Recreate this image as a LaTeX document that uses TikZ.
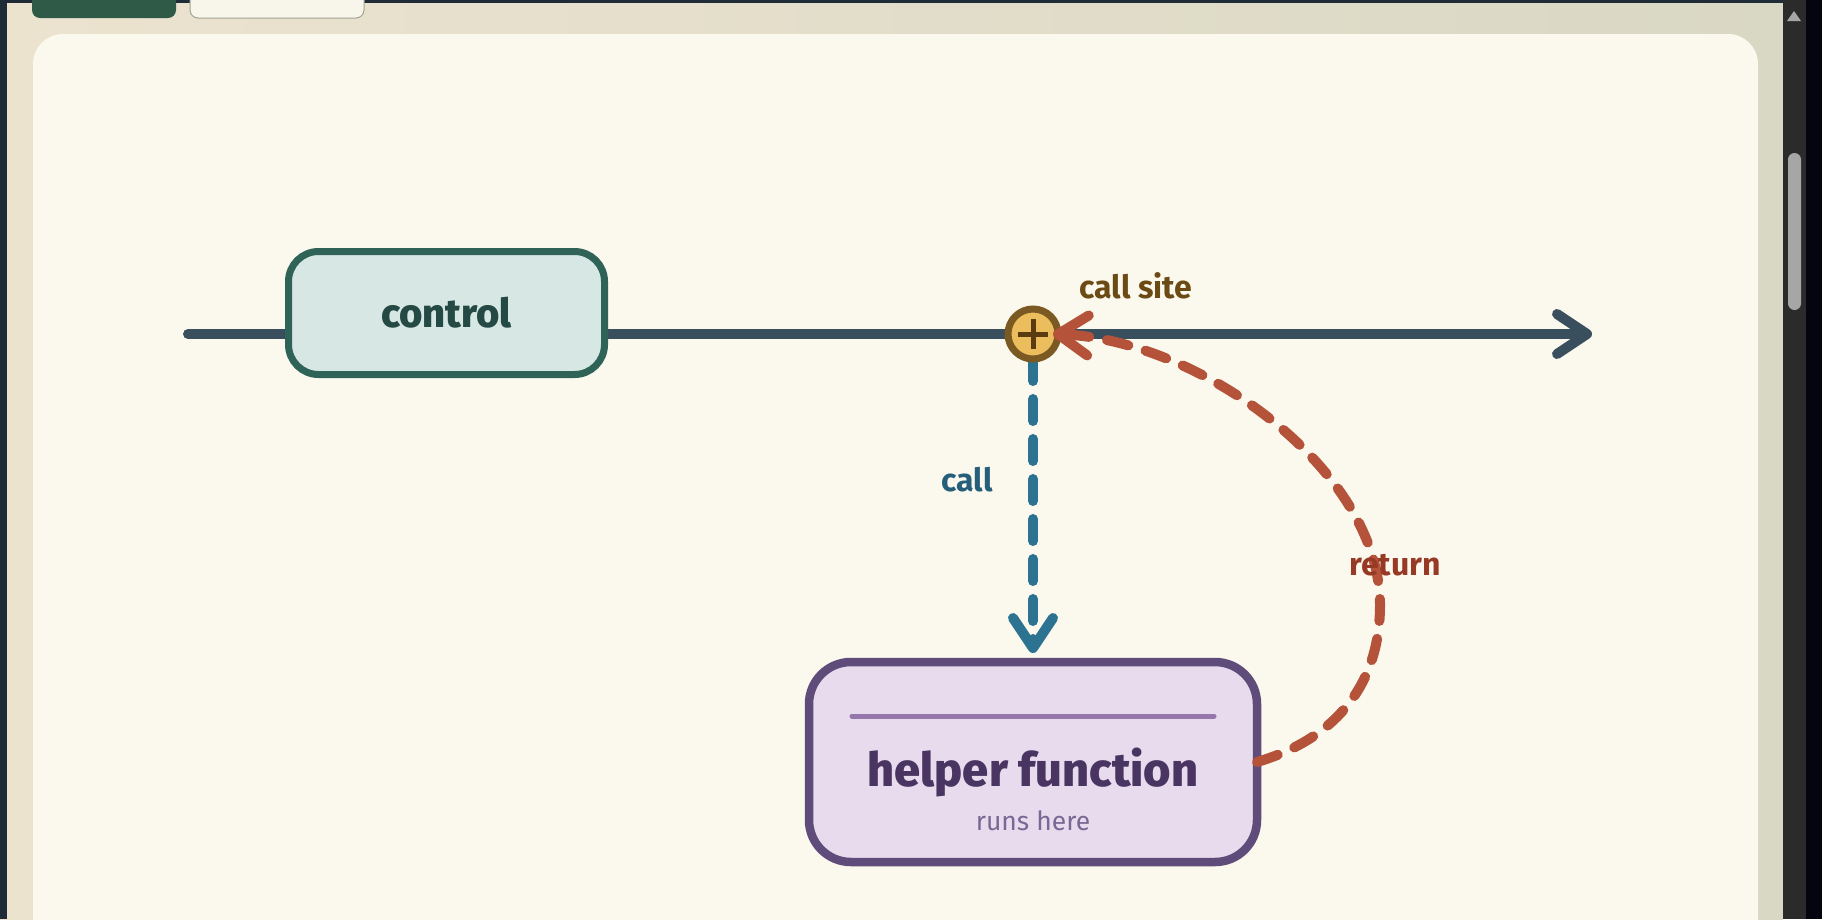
\documentclass[tikz,border=0pt]{standalone}
\usepackage{fontspec}
\setmainfont{Fira Sans}
\newfontfamily\heavyfont{Fira Sans ExtraBold}
\usetikzlibrary{arrows.meta}
\pgfdeclarelayer{bg}
\pgfsetlayers{bg,main}
\definecolor{bgL}{HTML}{ECE3CF}
\definecolor{bgR}{HTML}{D9D8C5}
\definecolor{frame}{HTML}{1F2C38}
\definecolor{track}{HTML}{2B2B2B}
\definecolor{farR}{HTML}{05050F}
\definecolor{thumbc}{HTML}{A6A6A6}
\definecolor{tabgreen}{HTML}{2F5A48}
\definecolor{tabwhite}{HTML}{F8F5EA}
\definecolor{tabborder}{HTML}{A3A392}
\definecolor{panel}{HTML}{FBF8EE}
\definecolor{slate}{HTML}{3A4F5E}
\definecolor{ctrlfill}{HTML}{D7E7E3}
\definecolor{ctrldraw}{HTML}{2F6358}
\definecolor{ctrltext}{HTML}{254A45}
\definecolor{sitefill}{HTML}{EBBD5D}
\definecolor{sitedraw}{HTML}{7A5A22}
\definecolor{plusc}{HTML}{5A3C10}
\definecolor{sitetext}{HTML}{6B4A14}
\definecolor{callc}{HTML}{2C7391}
\definecolor{calltext}{HTML}{255F7A}
\definecolor{retc}{HTML}{B5533A}
\definecolor{rettext}{HTML}{963A26}
\definecolor{helpfill}{HTML}{E8DBEE}
\definecolor{helpdraw}{HTML}{604C7A}
\definecolor{helpline}{HTML}{9577AC}
\definecolor{helptitle}{HTML}{4A3562}
\definecolor{helpsub}{HTML}{7A6894}
\begin{document}
\begin{tikzpicture}[x=1pt,y=-1pt,
  chev/.style={-{Straight Barb[length=30pt,width=40pt,round]}},
  mainline/.style={draw=slate,line width=10pt,line cap=round,chev},
  ctrlbox/.style={draw=ctrldraw,fill=ctrlfill,line width=7pt,rounded corners=30pt,
    minimum width=316pt,minimum height=123pt,outer sep=0pt,inner sep=0pt,
    text=ctrltext,font=\fontsize{40}{46}\heavyfont},
  sitec/.style={circle,draw=sitedraw,fill=sitefill,line width=7pt,minimum size=50pt,
    inner sep=0pt,outer sep=0pt},
  pluss/.style={draw=plusc,line width=5pt},
  helperbox/.style={draw=helpdraw,fill=helpfill,line width=8.5pt,rounded corners=42pt,
    minimum width=448pt,minimum height=200pt,outer sep=0pt,inner sep=0pt},
  innerline/.style={draw=helpline,line width=5pt,line cap=round},
  titletext/.style={text=helptitle,font=\fontsize{47}{52}\heavyfont,inner sep=0pt},
  subtext/.style={text=helpsub,font=\fontsize{26.5}{30}\selectfont,inner sep=0pt},
  lbl/.style={font=\fontsize{32}{36}\selectfont\bfseries,inner sep=0pt},
  callline/.style={draw=callc,line width=10pt,line cap=round,dash pattern=on 22pt off 18pt,chev},
  retline/.style={draw=retc,line width=10pt,line cap=round,dash pattern=on 22pt off 18pt,chev}
]
\useasboundingbox (0,0) rectangle (1822,919);
\clip (0,0) rectangle (1822,919);
\begin{pgfonlayer}{bg}
% window backdrop
\shade[left color=bgL,right color=bgR] (0,0) rectangle (1783,919);
\fill[frame] (0,0) rectangle (1822,3);
\fill[frame] (0,0) rectangle (7,919);
\fill[track] (1783,0) rectangle (1806,919);
\fill[farR] (1806,0) rectangle (1822,919);
\fill[thumbc,rounded corners=6.5pt] (1788,153) rectangle (1801,310);
\fill[thumbc] (1787,21) -- (1801,21) -- (1794,11) -- cycle;
\fill[tabgreen,rounded corners=8pt] (32,-12) rectangle (176,18);
\filldraw[fill=tabwhite,draw=tabborder,line width=1pt,rounded corners=8pt] (190,-12) rectangle (364,18);
\fill[panel,rounded corners=30pt] (33,34) rectangle (1758,990);
% main flow line
\coordinate (flowstart) at (188,334);
\coordinate (flowend) at (1592,334);
\draw[mainline] (flowstart) -- (flowend);
\end{pgfonlayer}

\node[ctrlbox] (control) at (446.5,313) {control};
\node[sitec] (site) at (1033,334) {};
\draw[pluss] ([xshift=-15pt]site.center) -- ([xshift=15pt]site.center);
\draw[pluss] ([yshift=-15pt]site.center) -- ([yshift=15pt]site.center);
\node[lbl,text=sitetext] (sitelbl) at (1136,286) {call site};

\node[helperbox] (helper) at (1033,762) {};
\coordinate (hl1) at (852,716);
\coordinate (hl2) at (1214,716);
\draw[innerline] (hl1) -- (hl2);
\node[titletext] (htitle) at (1033,772) {helper function};
\node[subtext] (hsub) at (1033,821) {runs here};

\begin{pgfonlayer}{bg}
\draw[callline] (site.south) -- ([yshift=9pt]helper.north);
\end{pgfonlayer}
\node[lbl,text=calltext] (calllbl) at (967,480) {call};

\draw[retline] (helper.east) .. controls (1335,739) and (1380,685) .. (1380,605)
  .. controls (1380,470) and (1200,340) .. ([xshift=-5pt]site.east);
\node[lbl,text=rettext] (retlbl) at (1395,565) {return};
\end{tikzpicture}
\end{document}
